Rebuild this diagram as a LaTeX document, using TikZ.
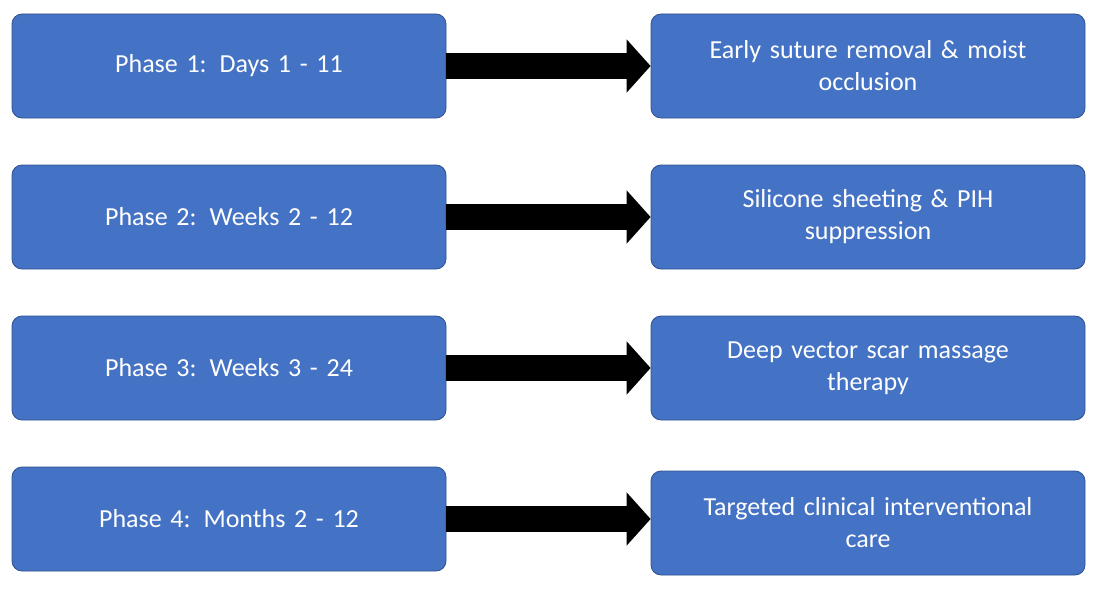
\documentclass[tikz,border=0pt]{standalone}
\usepackage{fontspec}
\setmainfont{Carlito}
\usetikzlibrary{arrows.meta}
\definecolor{boxblue}{HTML}{4472C4}
\definecolor{boxedge}{HTML}{2F528F}
\begin{document}
\begin{tikzpicture}[x=1pt,y=-1pt,
  box/.style={draw=boxedge,line width=0.8pt,fill=boxblue,rounded corners=10pt,minimum width=434pt,minimum height=104pt,text=white,font=\fontsize{26}{32}\selectfont,align=center,text width=415pt,inner sep=0pt},
  arr/.style={line width=26pt,-{Triangle[length=24pt,width=52pt]},black}]
\useasboundingbox (0,0) rectangle (1104,594);
\foreach \i/\y/\yy/\l/\r in {1/66/66/Phase 1: Days 1 - 11/Early suture removal \& moist\\occlusion,
  2/217/217/Phase 2: Weeks 2 - 12/Silicone sheeting \& PIH\\suppression,
  3/368/368/Phase 3: Weeks 3 - 24/Deep vector scar massage\\therapy,
  4/519/523/Phase 4: Months 2 - 12/Targeted clinical interventional\\care}{
  \node[box] (L\i) at (229,\y) {\l};
  \node[box] (R\i) at (868,\yy) {\r};
  \draw[arr] (L\i.east) -- (R\i.west |- L\i.east);
}
\end{tikzpicture}
\end{document}
